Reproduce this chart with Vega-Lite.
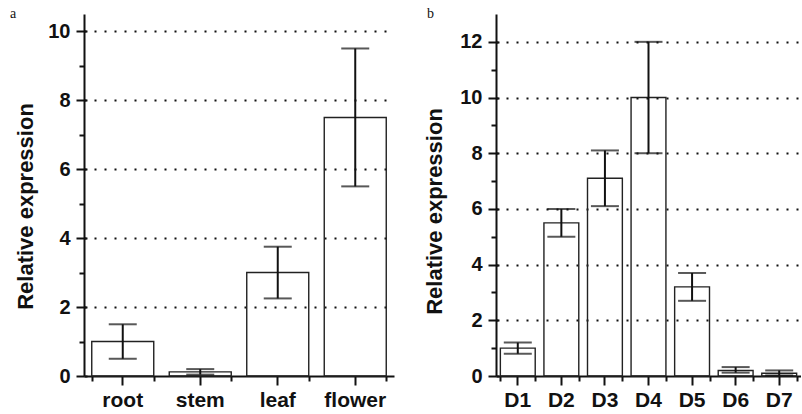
{
  "$schema": "https://vega.github.io/schema/vega-lite/v6.json",
  "padding": {"left": 10, "top": 7, "right": 0, "bottom": 0},
  "background": "white",
  "spacing": 29,
  "config": {
    "view": {"stroke": null},
    "font": "Liberation Sans",
    "axis": {
      "domainColor": "#111", "domainWidth": 2, "tickColor": "#111", "tickWidth": 2,
      "labelFont": "Liberation Sans", "labelFontWeight": "bold", "labelColor": "#111",
      "titleFont": "Liberation Sans", "titleFontWeight": "bold", "titleColor": "#111"
    },
    "title": {"font": "Liberation Serif", "fontSize": 14, "fontWeight": "normal", "color": "#111", "anchor": "start", "frame": "bounds", "baseline": "alphabetic", "offset": -7}
  },
  "datasets": {
    "a": [
      {"tissue": "root", "value": 1.0, "low": 0.5, "high": 1.5},
      {"tissue": "stem", "value": 0.12, "low": 0.04, "high": 0.2},
      {"tissue": "leaf", "value": 3.0, "low": 2.25, "high": 3.75},
      {"tissue": "flower", "value": 7.5, "low": 5.5, "high": 9.5}
    ],
    "b": [
      {"stage": "D1", "value": 1.0, "low": 0.8, "high": 1.2},
      {"stage": "D2", "value": 5.5, "low": 5.0, "high": 6.0},
      {"stage": "D3", "value": 7.1, "low": 6.1, "high": 8.1},
      {"stage": "D4", "value": 10.0, "low": 8.0, "high": 12.0},
      {"stage": "D5", "value": 3.2, "low": 2.7, "high": 3.7},
      {"stage": "D6", "value": 0.2, "low": 0.12, "high": 0.32},
      {"stage": "D7", "value": 0.1, "low": 0.02, "high": 0.2}
    ]
  },
  "hconcat": [
    {
      "width": 310, "height": 362,
      "data": {"name": "a"},
      "title": {"text": "a", "dx": -4},
      "resolve": {"axis": {"x": "independent", "y": "independent"}},
      "layer": [
        {
          "mark": {"type": "bar", "fill": "transparent", "stroke": "#222", "strokeWidth": 1.4},
          "encoding": {
            "x": {"field": "tissue", "type": "nominal", "sort": null,
              "scale": {"paddingInner": 0.2, "paddingOuter": 0.1},
              "axis": {"title": null, "labelAngle": 0, "labelFontSize": 21, "tickSize": 9, "labelPadding": 4}},
            "y": {"field": "value", "type": "quantitative",
              "scale": {"domain": [0, 10.5], "nice": false},
              "axis": {"title": "Relative expression", "values": [0,2,4,6,8,10], "tickSize": 8,
                "grid": true,
                "gridOpacity": {"condition": {"test": "datum.value > 0", "value": 1}, "value": 0},
                "gridDash": [2, 8], "gridColor": "#111", "gridWidth": 2,
                "labelFontSize": 20, "titleFontSize": 22, "labelPadding": 6,
                "titleBaseline": "middle", "titleX": -59, "titleY": 192}}
          }
        },
        {
          "mark": {"type": "rule", "strokeWidth": 2, "color": "#111"},
          "encoding": {
            "x": {"field": "tissue", "type": "nominal", "sort": null,
              "axis": {"orient": "bottom", "tickBand": "extent", "labels": false, "domain": false, "tickSize": 5, "title": null, "grid": false}},
            "y": {"field": "low", "type": "quantitative",
              "axis": {"orient": "left", "values": [1,3,5,7,9], "labels": false, "domain": false, "tickSize": 5, "title": null, "grid": false}},
            "y2": {"field": "high"}
          }
        },
        {
          "mark": {"type": "tick", "thickness": 2, "size": 28, "color": "#111"},
          "encoding": {
            "x": {"field": "tissue", "type": "nominal", "sort": null, "axis": null},
            "y": {"field": "low", "type": "quantitative",
              "axis": {"orient": "left", "values": [0,2,4,6,8,10], "labels": false, "domain": false, "tickSize": -3, "title": null, "grid": false}}
          }
        },
        {
          "mark": {"type": "tick", "thickness": 2, "size": 28, "color": "#111"},
          "encoding": {
            "x": {"field": "tissue", "type": "nominal", "sort": null, "axis": null},
            "y": {"field": "high", "type": "quantitative", "axis": null}
          }
        }
      ]
    },
    {
      "width": 305, "height": 362,
      "data": {"name": "b"},
      "title": {"text": "b", "dx": 4},
      "resolve": {"axis": {"x": "independent", "y": "independent"}},
      "layer": [
        {
          "mark": {"type": "bar", "fill": "transparent", "stroke": "#222", "strokeWidth": 1.4},
          "encoding": {
            "x": {"field": "stage", "type": "nominal", "sort": null,
              "scale": {"paddingInner": 0.2, "paddingOuter": 0.1},
              "axis": {"title": null, "labelAngle": 0, "labelFontSize": 21, "tickSize": 9, "labelPadding": 4}},
            "y": {"field": "value", "type": "quantitative",
              "scale": {"domain": [0, 13], "nice": false},
              "axis": {"title": "Relative expression", "values": [0,2,4,6,8,10,12], "tickSize": 8,
                "grid": true,
                "gridOpacity": {"condition": {"test": "datum.value > 0", "value": 1}, "value": 0},
                "gridDash": [2, 8], "gridColor": "#111", "gridWidth": 2,
                "labelFontSize": 20, "titleFontSize": 22, "labelPadding": 6,
                "titleBaseline": "middle", "titleX": -62, "titleY": 197}}
          }
        },
        {
          "mark": {"type": "rule", "strokeWidth": 2, "color": "#111"},
          "encoding": {
            "x": {"field": "stage", "type": "nominal", "sort": null,
              "axis": {"orient": "bottom", "tickBand": "extent", "labels": false, "domain": false, "tickSize": 5, "title": null, "grid": false}},
            "y": {"field": "low", "type": "quantitative",
              "axis": {"orient": "left", "values": [1,3,5,7,9,11], "labels": false, "domain": false, "tickSize": 5, "title": null, "grid": false}},
            "y2": {"field": "high"}
          }
        },
        {
          "mark": {"type": "tick", "thickness": 2, "size": 28, "color": "#111"},
          "encoding": {
            "x": {"field": "stage", "type": "nominal", "sort": null, "axis": null},
            "y": {"field": "low", "type": "quantitative",
              "axis": {"orient": "left", "values": [0,2,4,6,8,10,12], "labels": false, "domain": false, "tickSize": -3, "title": null, "grid": false}}
          }
        },
        {
          "mark": {"type": "tick", "thickness": 2, "size": 28, "color": "#111"},
          "encoding": {
            "x": {"field": "stage", "type": "nominal", "sort": null, "axis": null},
            "y": {"field": "high", "type": "quantitative", "axis": null}
          }
        }
      ]
    }
  ]
}
